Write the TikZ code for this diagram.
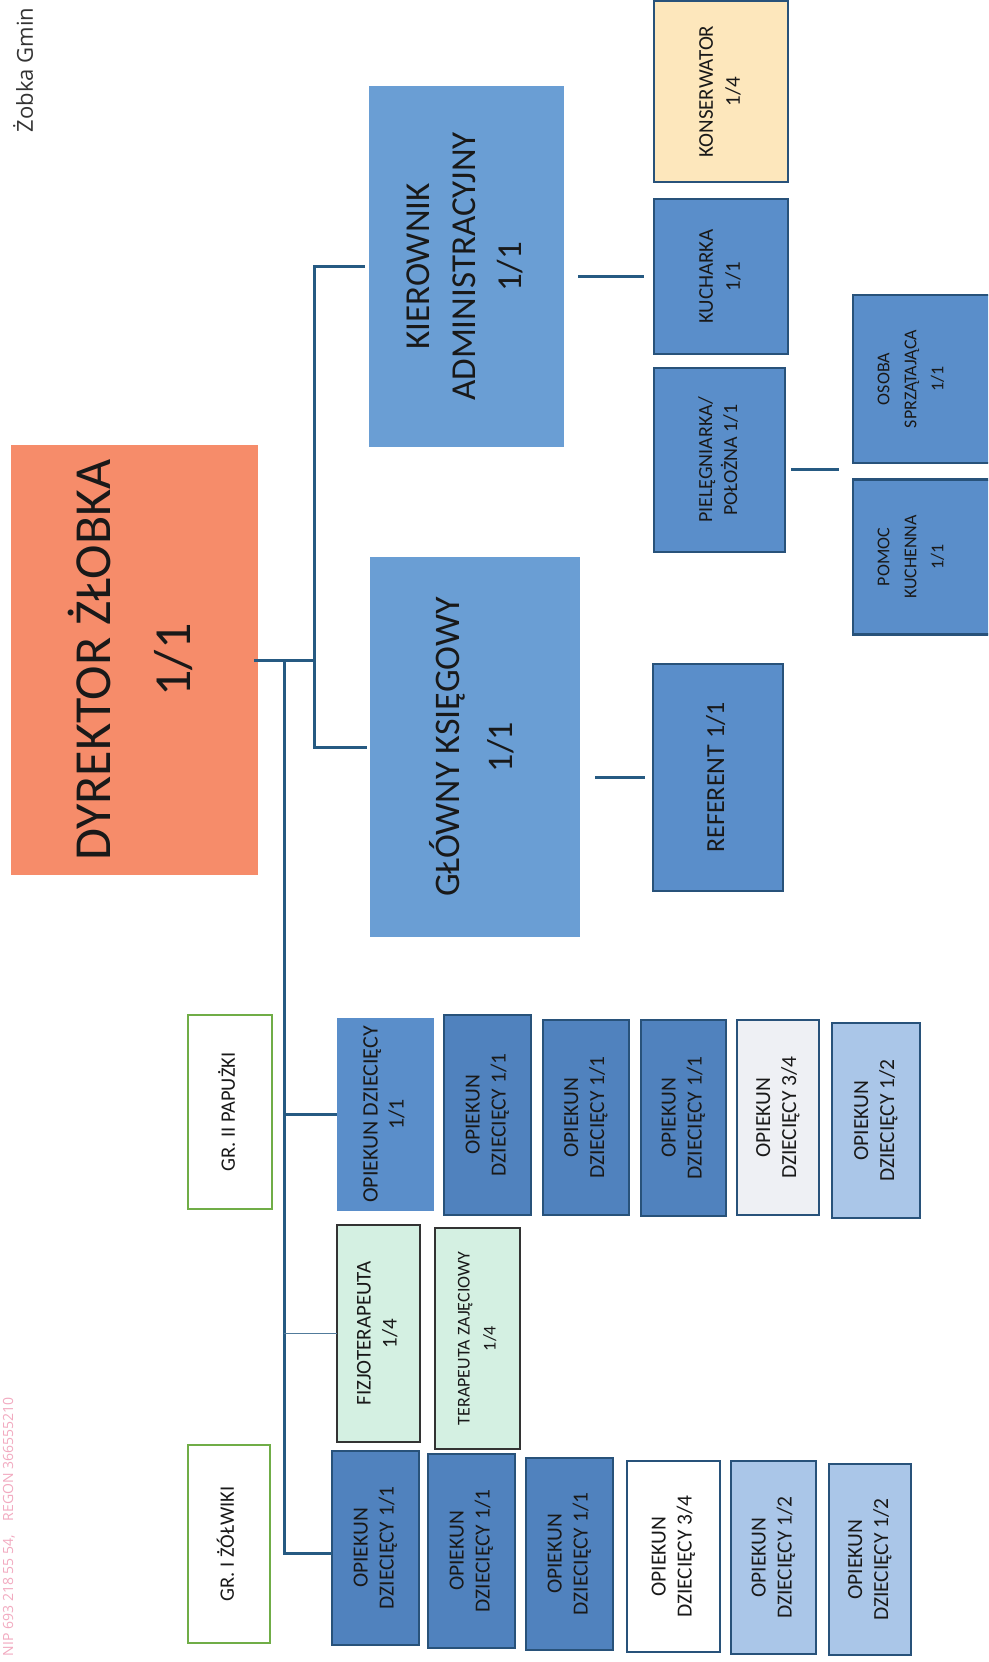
\documentclass[tikz,border=0pt]{standalone}
\usepackage{fontspec}
\setmainfont{Carlito}
\newfontfamily\hdrfont{Open Sans}
\definecolor{dirfill}{RGB}{246,140,106}
\definecolor{bigblue}{RGB}{106,158,212}
\definecolor{midblue}{RGB}{90,142,202}
\definecolor{opblue}{RGB}{80,130,190}
\definecolor{halfblue}{RGB}{170,198,232}
\definecolor{greyish}{RGB}{238,240,244}
\definecolor{mint}{RGB}{212,240,226}
\definecolor{cream}{RGB}{253,231,188}
\definecolor{boxline}{RGB}{40,82,122}
\definecolor{connc}{RGB}{38,90,130}
\definecolor{grpgreen}{RGB}{112,173,71}
\definecolor{stamp}{RGB}{242,170,192}
\definecolor{txt}{RGB}{25,25,25}
\newcommand\rt[1]{\rotatebox{90}{\begin{tabular}{@{}c@{}}#1\end{tabular}}}
\newcommand\bx[7][]{%
  \node[#1, minimum width={(#5-#3)*1pt}, minimum height={(#6-#4)*1pt}] (#2) at ({(#3+#5)/2},{(#4+#6)/2}) {\rt{#7}};}
\begin{document}
\begin{tikzpicture}[x=1pt,y=-1pt,
  every node/.style={inner sep=0pt, outer sep=0pt, text=txt},
  dirbox/.style={fill=dirfill, font=\fontsize{52}{80}\selectfont},
  bigbox/.style={fill=bigblue, font=\fontsize{35}{46}\selectfont},
  darkbox/.style={fill=midblue, draw=boxline, line width=2.5pt, font=\fontsize{21}{27}\selectfont},
  opbox/.style={fill=opblue, draw=boxline, line width=2.5pt, font=\fontsize{21.5}{26}\selectfont},
  opplain/.style={fill=midblue, font=\fontsize{22}{26}\selectfont},
  halfbox/.style={fill=halfblue, draw=boxline, line width=2.5pt, font=\fontsize{21.5}{26}\selectfont},
  greybox/.style={fill=greyish, draw=boxline, line width=2.5pt, font=\fontsize{21.5}{26}\selectfont},
  whitebox/.style={fill=white, draw=boxline, line width=2.5pt, font=\fontsize{21.5}{26}\selectfont},
  mintbox/.style={fill=mint, draw=black!80, line width=2pt, font=\fontsize{21}{26}\selectfont},
  creambox/.style={fill=cream, draw=boxline, line width=2.5pt, font=\fontsize{21}{27}\selectfont},
  grpbox/.style={fill=white, draw=grpgreen, line width=2.5pt, font=\fontsize{20.5}{24}\selectfont},
  conn/.style={draw=connc, line width=3pt},
  thinconn/.style={draw=connc!80, line width=1.6pt}]
\clip (0,0) rectangle (988,1662);
\fill[white] (0,0) rectangle (988,1662);

% header and stamp
\node[rotate=90, anchor=west, font=\hdrfont\fontsize{22}{26}\selectfont, text=black!80] (hdr) at (23,132) {Żobka Gmin};
\node[rotate=90, anchor=west, font=\hdrfont\fontsize{14}{16}\selectfont, text=stamp] (stmp) at (9,1656) {NIP 693 218 55 54,\quad REGON 366555210};

% top level
\bx[dirbox]{dyr}{11}{445}{258}{875}{DYREKTOR ŻŁOBKA\\1/1}
\bx[bigbox]{kier}{369}{86}{564}{447}{KIEROWNIK\\ADMINISTRACYJNY\\1/1}
\bx[bigbox, font=\fontsize{36}{53}\selectfont]{glo}{370}{557}{580}{937}{GŁÓWNY KSIĘGOWY\\1/1}
\bx[darkbox, font=\fontsize{26}{30}\selectfont]{ref}{653}{664}{783}{891}{REFERENT 1/1}
\bx[creambox]{kons}{654}{1}{788}{182}{KONSERWATOR\\1/4}
\bx[darkbox]{kuch}{654}{199}{788}{354}{KUCHARKA\\1/1}
\bx[darkbox, font=\fontsize{20}{25}\selectfont]{piel}{654}{368}{785}{552}{PIELĘGNIARKA/\\POŁOŻNA 1/1}
\node[fill=midblue, draw=boxline, line width=2.5pt, minimum width=150pt, minimum height=168pt] (osoba) at (928,379) {};
\node[font=\fontsize{18}{27}\selectfont] (osobat) at (911,379) {\rt{OSOBA\\SPRZĄTAJĄCA\\1/1}};
\node[fill=midblue, draw=boxline, line width=2.5pt, minimum width=150pt, minimum height=155pt] (pomoc) at (928,557) {};
\node[font=\fontsize{18}{27}\selectfont] (pomoct) at (911,557) {\rt{POMOC\\KUCHENNA\\1/1}};

% groups
\bx[grpbox]{gr2}{188}{1015}{272}{1209}{GR. II PAPUŻKI}
\bx[grpbox]{gr1}{188}{1445}{270}{1643}{GR. I ŻÓŁWIKI}

% papuzki column
\bx[opplain]{p1}{337}{1018}{434}{1211}{OPIEKUN DZIECIĘCY\\1/1}
\bx[opbox]{p2}{444}{1015}{531}{1215}{OPIEKUN\\DZIECIĘCY 1/1}
\bx[opbox]{p3}{543}{1020}{629}{1215}{OPIEKUN\\DZIECIĘCY 1/1}
\bx[opbox]{p4}{641}{1020}{726}{1216}{OPIEKUN\\DZIECIĘCY 1/1}
\bx[greybox]{p5}{737}{1020}{819}{1215}{OPIEKUN\\DZIECIĘCY 3/4}
\bx[halfbox]{p6}{832}{1023}{920}{1218}{OPIEKUN\\DZIECIĘCY 1/2}

% therapists
\bx[mintbox]{fiz}{337}{1225}{420}{1442}{FIZJOTERAPEUTA\\1/4}
\bx[mintbox, font=\fontsize{18}{26}\selectfont]{ter}{435}{1228}{520}{1449}{TERAPEUTA ZAJĘCIOWY\\1/4}

% zolwiki column
\bx[opbox]{z1}{332}{1451}{419}{1645}{OPIEKUN\\DZIECIĘCY 1/1}
\bx[opbox]{z2}{428}{1454}{515}{1648}{OPIEKUN\\DZIECIĘCY 1/1}
\bx[opbox]{z3}{526}{1458}{613}{1650}{OPIEKUN\\DZIECIĘCY 1/1}
\bx[whitebox]{z4}{627}{1461}{720}{1652}{OPIEKUN\\DZIECIĘCY 3/4}
\bx[halfbox]{z5}{731}{1461}{816}{1654}{OPIEKUN\\DZIECIĘCY 1/2}
\bx[halfbox]{z6}{829}{1464}{911}{1655}{OPIEKUN\\DZIECIĘCY 1/2}

% connectors
\coordinate (jR) at (314,660);
\coordinate (jT) at (284,660);
\coordinate (op) at (853,469);
\draw[conn, shorten <=-4pt] (dyr.east) -- (jR);
\draw[conn, shorten >=4pt] (jR) |- (kier.west);
\draw[conn, shorten >=3pt] (jR) |- (glo.west);
\draw[conn] (jT) |- ([yshift=-5pt]z1.west);
\draw[conn] (jT |- p1.west) -- (p1.west);
\draw[thinconn] (jT |- fiz.west) -- (fiz.west);
\draw[conn, shorten <=14pt, shorten >=10pt] (kier.east |- kuch.west) -- (kuch.west);
\draw[conn, shorten <=15pt, shorten >=8pt] (glo.east |- ref.west) -- (ref.west);
\draw[conn, shorten <=6pt, shorten >=14pt] (piel.east |- op) -- (op);
\end{tikzpicture}
\end{document}
